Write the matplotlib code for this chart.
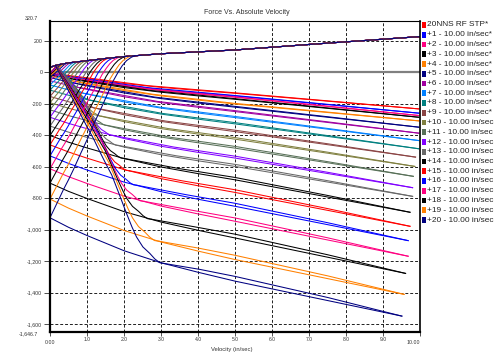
import numpy as np
import matplotlib
matplotlib.use("Agg")
import matplotlib.pyplot as plt
from matplotlib.patches import Rectangle

W, H = 494, 354
plt.rcParams["font.family"] = ["Liberation Sans", "DejaVu Sans"]

series_names = ["20NNS RF STP*"] + [f"+{k} - 10.00 in/sec*" for k in range(1, 10)] \
    + [f"+{k} - 10.00 in/sec" for k in range(10, 21)]
series_colors = ["#FF0000", "#0000FF", "#FF0080", "#000000", "#FF8000", "#000080",
                 "#A000A0", "#0080FF", "#008080", "#8B4545", "#808040", "#587058",
                 "#8000FF", "#686868", "#000000", "#FF0000", "#0000FF", "#FF0080",
                 "#000000", "#FF8000", "#000080"]

# rebound branch: force at 0 in/s, at 5 in/s and at peak velocity
f_zero = [-5, -10, -14, -18, -25, -35, -55, -82, -115, -155, -195, -240, -287,
          -343, -403, -462, -532, -614, -705, -806, -925]
f_at5 = [-135, -152, -160, -173, -203, -223, -251, -289, -329, -378, -426, -483,
         -546, -599, -684, -764, -852, -947, -1053, -1190, -1327]
f_peak = [-234, -261, -276, -287, -310, -350, -388, -435, -487, -540, -599, -662,
          -734, -789, -890, -979, -1070, -1169, -1278, -1411, -1549]
v_peak = [9.97] * 9 + [9.88, 9.86, 9.82, 9.8, 9.8, 9.73, 9.73, 9.68, 9.68, 9.61, 9.57, 9.51]
# gap between accelerating and decelerating rebound traces at 5 in/s
gap_at5 = [3, 3, 3, 4, 4, 5, 6, 7, 8, 9, 10, 11, 12, 13, 15, 17, 19, 21, 24, 27, 30]
# velocity where the rebound transition joins the rebound trace
v_reb_join = [0.3, 0.35, 0.4, 0.45, 0.55, 0.65, 0.8, 0.95, 1.1, 1.25, 1.4, 1.55, 1.7,
              1.85, 2.0, 2.15, 2.35, 2.55, 2.75, 2.95, 3.1]
# velocity where the compression transition joins the compression trace
v_comp_join = [0.22, 0.26, 0.3, 0.36, 0.42, 0.5, 0.6, 0.7, 0.8, 0.9, 1.0, 1.12, 1.25,
               1.38, 1.5, 1.6, 1.75, 1.9, 2.05, 2.2, 2.3]

# compression trace (shared by all runs)
comp_v = [0, 0.2, 0.5, 1, 1.5, 2, 3, 4, 5, 7, 10]
comp_f = [30, 45, 58, 72, 86, 98, 116, 128, 140, 175, 225]

# shape of the rebound trace between 0 and 5 in/s
reb_v = [0, 0.5, 1, 1.5, 2, 3, 4, 5]
reb_frac = [0, 0.15, 0.28, 0.40, 0.52, 0.71, 0.86, 1.0]
# shape of the transitions (fraction of span vs. fraction of force change)
rise_u = [0, .08, .157, .22, .274, .35, .435, .52, .609, .68, .739, .8, .848, .9, .957, 1.0]
rise_p = [0, .088, .173, .237, .296, .385, .481, .585, .685, .77, .841, .898, .938, .97, .991, 1.0]
fall_u = [0, .1, .2, .285, .35, .407, .46, .515, .58, .651, .7, .742, .8, .864, .91, .956, 1.0]
fall_p = [0, .107, .215, .306, .372, .437, .495, .553, .645, .748, .815, .866, .916, .949, .977, .996, 1.0]
fall_start_v = 0.15

yticks = list(range(200, -1601, -200))
xticks = list(range(0, 11))

fig = plt.figure(figsize=(W / 100, H / 100), dpi=100)
ax = fig.add_axes([50 / W, 1 - 331.5 / H, 370 / W, 310 / H])
ax.set_xlim(0, 10)
ax.set_ylim(-1646.7, 320.7)

grid_kw = dict(color="#202020", lw=0.7, ls=(0, (3, 2)), zorder=1)
for y in yticks:
    if y != 0:
        ax.axhline(y, **grid_kw)
for x in xticks[1:-1]:
    ax.axvline(x, **grid_kw)
ax.axhline(0, color="#808080", lw=1.6, zorder=1.5)

lw = 0.75
for i in range(21):
    c = series_colors[i]
    F0, F5, Fp, vp = f_zero[i], f_at5[i], f_peak[i], v_peak[i]
    lv = np.array(reb_v + [vp])
    lf = np.array([F0 + (F5 - F0) * r for r in reb_frac] + [Fp])
    vm, vc = v_reb_join[i], v_comp_join[i]
    g = gap_at5[i]

    # compression trace
    ax.plot(comp_v, comp_f, color=c, lw=lw, zorder=2)
    # compression transition from the zero-velocity rebound force
    Ft = np.interp(vc, comp_v, comp_f)
    ax.plot(np.array(rise_u) * vc, F0 + np.array(rise_p) * (Ft - F0), color=c, lw=lw, zorder=2)
    # rebound transition from the compression trace
    Fs = np.interp(fall_start_v, comp_v, comp_f)
    Fm = np.interp(vm, lv, lf) + 1
    ax.plot(fall_start_v + np.array(fall_u) * (vm - fall_start_v),
            Fs + np.array(fall_p) * (Fm - Fs), color=c, lw=lw, zorder=2)
    # accelerating rebound trace
    vmid = (vm + 5) / 2
    acc_v = [vm, vmid, 5, 7.5, vp]
    acc_f = [Fm, np.interp(vmid, lv, lf) + 0.7 * g, F5 + g,
             np.interp(7.5, lv, lf) + 0.65 * g, Fp]
    ax.plot(acc_v, acc_f, color=c, lw=lw, zorder=2)
    # decelerating rebound trace
    ax.plot(lv, lf, color=c, lw=lw, zorder=2)

for side, w in (("left", 1.6), ("bottom", 1.6), ("right", 1.2), ("top", 0.8)):
    ax.spines[side].set_linewidth(w)
    ax.spines[side].set_color("black")
    ax.spines[side].set_zorder(5)

ax.set_yticks(yticks)
ax.set_yticklabels([f"{v:,}" for v in yticks])
ax.set_xticks(xticks)
ax.set_xticklabels([""] + [f"{x:.1f}" for x in xticks[1:-1]] + [""])
ax.tick_params(axis="y", length=4, width=0.6, pad=1.5, labelsize=3.8, colors="#333333")
ax.tick_params(axis="x", length=3, width=0.6, pad=1.2, labelsize=3.6, colors="#333333")

txt = dict(color="#333333", fontsize=3.8)
fig.text(38 / W, 1 - 18 / H, "320.7", ha="right", va="center", **txt)
fig.text(38 / W, 1 - 334 / H, "-1,646.7", ha="right", va="center", **txt)
fig.text(50 / W, 1 - 343 / H, "0.00", ha="center", va="center", **txt)
fig.text(413 / W, 1 - 343 / H, "10.00", ha="center", va="center", **txt)
fig.text(232 / W, 1 - 349 / H, "Velocity (in/sec)", ha="center", va="center",
         color="#333333", fontsize=4.2)
fig.text(0.5, 1 - 12 / H, "Force Vs. Absolute Velocity", ha="center", va="center",
         color="#333333", fontsize=5)

for k, (name, c) in enumerate(zip(series_names, series_colors)):
    yc = 25 + 9.75 * k
    fig.patches.append(Rectangle((421.7 / W, 1 - (yc + 2.8) / H), 4 / W, 5.6 / H,
                                 transform=fig.transFigure, facecolor=c,
                                 edgecolor="none", figure=fig))
    fig.text(426.5 / W, 1 - yc / H, name, ha="left", va="center", fontsize=5.95,
             color="#222222")

fig.savefig("out.png", dpi=100)
